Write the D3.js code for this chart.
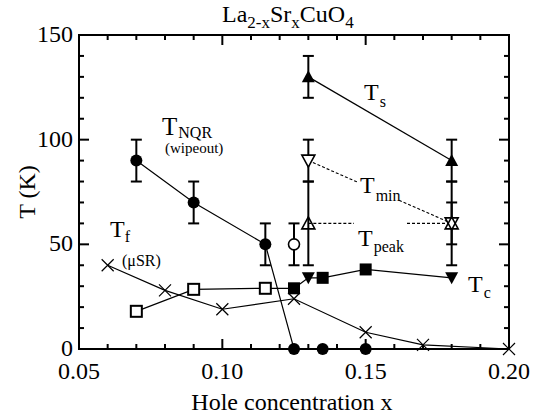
<!DOCTYPE html>
<html>
<head>
<meta charset="utf-8">
<script src="https://cdn.jsdelivr.net/npm/d3@7"></script>
</head>
<body style="margin:0">
<svg id="chart" width="544" height="420" font-family="Liberation Serif" style="display:block;background:#fff"></svg>
<script>
// Hole concentration x and temperatures (K) for La2-xSrxCuO4

// NQR wipeout onset (filled circles)
const nqrX = [0.07, 0.09, 0.115, 0.125, 0.135, 0.15];
const nqrT = [90, 70, 50, 0, 0, 0];
const nqrErr = [10, 10, 10, 0, 0, 0];

// muSR freezing temperature (crosses)
const muSRX = [0.06, 0.08, 0.10, 0.125, 0.15, 0.17, 0.20];
const muSRT = [40, 28, 19, 24, 8, 2, 0];

// Tc: open squares, filled squares, filled down triangles
const tcOpenSqX = [0.07, 0.09, 0.115];
const tcOpenSqT = [18, 28.5, 29];
const tcFilledSqX = [0.125, 0.135, 0.15];
const tcFilledSqT = [29, 34, 38];
const tcTriX = [0.13, 0.18];
const tcTriT = [34, 34];

// Ts (filled up triangles)
const tsX = [0.13, 0.18];
const tsT = [130, 90];
const tsErr = [10, 10];

// Tmin (open down triangles)
const tminX = [0.13, 0.18];
const tminT = [90, 60];
const tminErr = [10, 10];

// Tpeak (open up triangles)
const tpeakX = [0.13, 0.18];
const tpeakT = [60, 60];
const tpeakErr = [20, 20];

// extra point (open circle)
const openCircX = [0.125];
const openCircT = [50];
const openCircErr = [10];

// axes
const xDomain = [0.05, 0.20];
const yDomain = [0, 150];
const xMajorTicks = [0.05, 0.10, 0.15, 0.20];
const xTickLabels = ["0.05", "0.10", "0.15", "0.20"];
const yMajorTicks = [0, 50, 100, 150];
const yTickLabels = ["0", "50", "100", "150"];
const xMinorStep = 0.01;
const yMinorStep = 10;

const svg = d3.select("#chart");
const plotL = 79, plotR = 509, plotT = 35, plotB = 349;

const x = d3.scaleLinear().domain(xDomain).range([plotL, plotR]);
const y = d3.scaleLinear().domain(yDomain).range([plotB, plotT]);

const zip = (xs, ys, es) => xs.map((v, i) => ({ x: v, t: ys[i], e: es ? es[i] : 0 }));

// every text uses the serif face
const serif = sel => sel
  .attr("font-family", "Liberation Serif")
  .style("font-family", '"Liberation Serif"');

// ---- frame with inward ticks on all four sides ----
const frame = svg.append("g");
const xMinor = d3.range(0, 16).map(i => +(xDomain[0] + i * xMinorStep).toFixed(3));
const yMinor = d3.range(0, 16).map(i => i * yMinorStep);
const isMajorX = v => xMajorTicks.some(m => Math.abs(m - v) < 1e-6);
const isMajorY = v => yMajorTicks.includes(v);

xMinor.forEach(v => {
  const L = isMajorX(v) ? 10 : 5;
  frame.append("line").attr("x1", x(v)).attr("x2", x(v)).attr("y1", plotB).attr("y2", plotB - L);
  frame.append("line").attr("x1", x(v)).attr("x2", x(v)).attr("y1", plotT).attr("y2", plotT + L);
});
yMinor.forEach(v => {
  const L = isMajorY(v) ? 10 : 5;
  frame.append("line").attr("x1", plotL).attr("x2", plotL + L).attr("y1", y(v)).attr("y2", y(v));
  frame.append("line").attr("x1", plotR).attr("x2", plotR - L).attr("y1", y(v)).attr("y2", y(v));
});
frame.selectAll("line").attr("stroke", "#000").attr("stroke-width", 2);
frame.append("rect")
  .attr("x", plotL).attr("y", plotT).attr("width", plotR - plotL).attr("height", plotB - plotT)
  .attr("fill", "none").attr("stroke", "#000").attr("stroke-width", 2);

// tick labels
svg.append("g").selectAll("text").data(xMajorTicks).join("text")
  .attr("x", d => x(d)).attr("y", 379)
  .attr("text-anchor", "middle").attr("font-size", 24)
  .call(serif)
  .text((d, i) => xTickLabels[i]);
svg.append("g").selectAll("text").data(yMajorTicks).join("text")
  .attr("x", 73).attr("y", d => y(d) + 7)
  .attr("text-anchor", "end").attr("font-size", 24)
  .call(serif)
  .text((d, i) => yTickLabels[i]);

// axis titles
svg.append("text").attr("x", 292).attr("y", 410).attr("text-anchor", "middle")
  .attr("font-size", 24).call(serif).text("Hole concentration x");
svg.append("text").attr("transform", "translate(35,192) rotate(-90)")
  .attr("text-anchor", "middle").attr("font-size", 24).call(serif).text("T (K)");

// chart title with subscripts
const title = svg.append("text").attr("x", 222).attr("y", 22).attr("font-size", 24).call(serif);
[["La", 0], ["2-x", 1], ["Sr", 0], ["x", 1], ["CuO", 0], ["4", 1]].forEach(([s, sub], i, arr) => {
  const prevSub = i > 0 ? arr[i - 1][1] : 0;
  const dy = sub === prevSub ? 0 : (sub ? 6 : -6);
  title.append("tspan").attr("dy", dy).attr("font-size", sub ? 17 : 24).call(serif).text(s);
});

// ---- connecting lines ----
const lineGen = d3.line().x(d => x(d.x)).y(d => y(d.t));
const lines = svg.append("g").attr("fill", "none").attr("stroke", "#000").attr("stroke-width", 1.2);

lines.append("path").attr("d", lineGen(zip(nqrX, nqrT)));
lines.append("path").attr("d", lineGen(zip(muSRX, muSRT)));
const tcAll = zip(tcOpenSqX, tcOpenSqT)
  .concat(zip(tcFilledSqX, tcFilledSqT), zip(tcTriX, tcTriT))
  .sort((a, b) => a.x - b.x);
lines.append("path").attr("d", lineGen(tcAll));
lines.append("path").attr("d", lineGen(zip(tsX, tsT)));

// dashed Tmin and Tpeak lines, broken where their labels sit
function brokenDashed(xs, ts, gapX0, gapX1) {
  const p0 = { x: xs[0], t: ts[0] }, p1 = { x: xs[1], t: ts[1] };
  const at = xv => ({ x: xv, t: p0.t + (p1.t - p0.t) * (xv - p0.x) / (p1.x - p0.x) });
  [[p0, at(gapX0)], [at(gapX1), p1]].forEach(seg => {
    lines.append("path").attr("d", lineGen(seg))
      .attr("stroke-dasharray", "3,2").attr("stroke-width", 1.1);
  });
}
brokenDashed(tminX, tminT, x.invert(357), x.invert(399));
brokenDashed(tpeakX, tpeakT, x.invert(354), x.invert(407));

// ---- error bars ----
const errG = svg.append("g").attr("stroke", "#000").attr("stroke-width", 2);
function errorBars(pts) {
  pts.filter(d => d.e > 0).forEach(d => {
    const cx = x(d.x), y0 = y(d.t - d.e), y1 = y(d.t + d.e);
    errG.append("line").attr("x1", cx).attr("x2", cx).attr("y1", y0).attr("y2", y1);
    errG.append("line").attr("x1", cx - 5.5).attr("x2", cx + 5.5).attr("y1", y0).attr("y2", y0);
    errG.append("line").attr("x1", cx - 5.5).attr("x2", cx + 5.5).attr("y1", y1).attr("y2", y1);
  });
}
errorBars(zip(nqrX, nqrT, nqrErr));
errorBars(zip(tsX, tsT, tsErr));
errorBars(zip(tminX, tminT, tminErr));
errorBars(zip(tpeakX, tpeakT, tpeakErr));
errorBars(zip(openCircX, openCircT, openCircErr));

// ---- markers ----
const marks = svg.append("g");
const upTri = "M-6.5,5.5L6.5,5.5L0,-6.5Z";
const downTri = "M-6.5,-5.5L6.5,-5.5L0,6.5Z";

marks.selectAll(".nqr").data(zip(nqrX, nqrT)).join("circle")
  .attr("cx", d => x(d.x)).attr("cy", d => y(d.t)).attr("r", 6).attr("fill", "#000");

marks.selectAll(".oc").data(zip(openCircX, openCircT)).join("circle")
  .attr("cx", d => x(d.x)).attr("cy", d => y(d.t)).attr("r", 5.5)
  .attr("fill", "#fff").attr("stroke", "#000").attr("stroke-width", 1.6);

marks.selectAll(".osq").data(zip(tcOpenSqX, tcOpenSqT)).join("rect")
  .attr("x", d => x(d.x) - 5.5).attr("y", d => y(d.t) - 5.5).attr("width", 11).attr("height", 11)
  .attr("fill", "#fff").attr("stroke", "#000").attr("stroke-width", 2);

marks.selectAll(".fsq").data(zip(tcFilledSqX, tcFilledSqT)).join("rect")
  .attr("x", d => x(d.x) - 6).attr("y", d => y(d.t) - 6).attr("width", 12).attr("height", 12)
  .attr("fill", "#000");

marks.selectAll(".tct").data(zip(tcTriX, tcTriT)).join("path")
  .attr("transform", d => `translate(${x(d.x)},${y(d.t)})`).attr("d", downTri).attr("fill", "#000");

marks.selectAll(".tst").data(zip(tsX, tsT)).join("path")
  .attr("transform", d => `translate(${x(d.x)},${y(d.t)})`).attr("d", upTri).attr("fill", "#000");

marks.selectAll(".tmin").data(zip(tminX, tminT)).join("path")
  .attr("transform", d => `translate(${x(d.x)},${y(d.t)})`).attr("d", downTri)
  .attr("fill", "#fff").attr("stroke", "#000").attr("stroke-width", 1.6);

marks.selectAll(".tpk").data(zip(tpeakX, tpeakT)).join("path")
  .attr("transform", d => `translate(${x(d.x)},${y(d.t)})`).attr("d", upTri)
  .attr("fill", "none").attr("stroke", "#000").attr("stroke-width", 1.6);

marks.selectAll(".mu").data(zip(muSRX, muSRT)).join("path")
  .attr("transform", d => `translate(${x(d.x)},${y(d.t)})`)
  .attr("d", "M-6,-6L6,6M-6,6L6,-6")
  .attr("stroke", "#000").attr("stroke-width", 1.2).attr("fill", "none");

// ---- labels with subscripts ----
function label(xp, yp, main, sub, subDx, subDy, mainSize, subSize) {
  const t = svg.append("text").attr("x", xp).attr("y", yp).attr("font-size", mainSize).call(serif);
  t.append("tspan").call(serif).text(main);
  t.append("tspan").attr("dx", subDx).attr("dy", subDy).attr("font-size", subSize).call(serif).text(sub);
}
label(162, 135, "T", "NQR", 1, 3, 25, 16);
svg.append("text").attr("x", 165).attr("y", 153).attr("font-size", 15).call(serif).text("(wipeout)");
label(110, 237, "T", "f", 0, 5, 24, 16);
svg.append("text").attr("x", 122).attr("y", 266).attr("font-size", 16).call(serif).text("(\u03bcSR)");
label(364, 100, "T", "s", 1, 7, 24, 16);
label(360, 193, "T", "min", 1, 8, 24, 16);
label(358, 246, "T", "peak", 1, 6, 24, 16);
label(468, 292, "T", "c", 1, 6, 24, 16);
</script>
</body>
</html>
